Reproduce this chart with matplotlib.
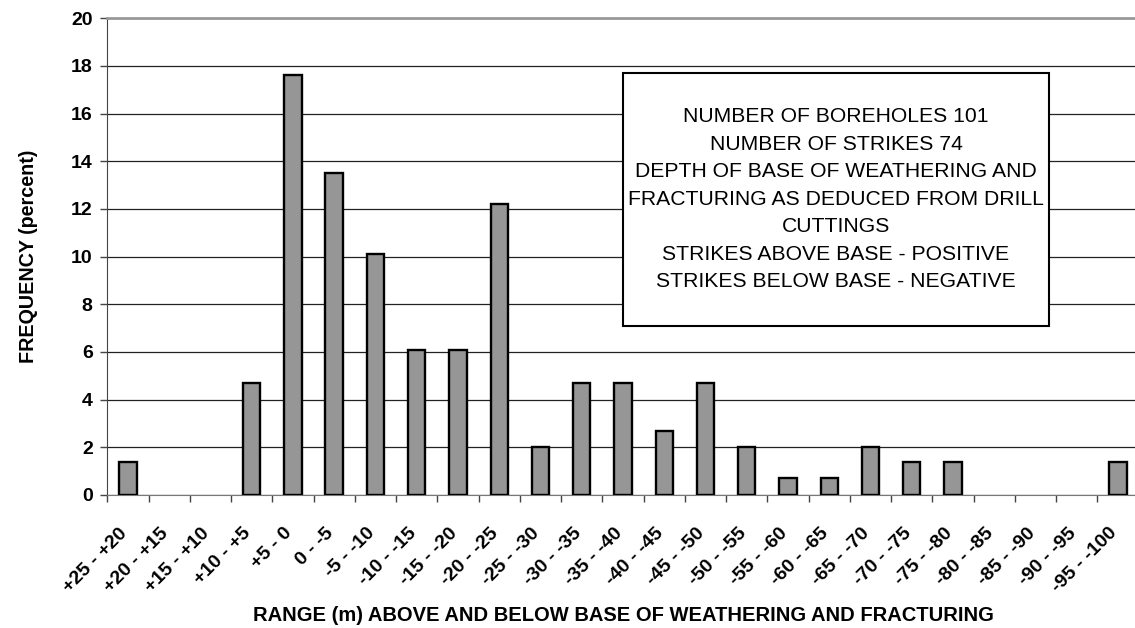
import numpy as np
import matplotlib.pyplot as plt
from matplotlib.patches import Rectangle

# =========================================================
# DATA
# =========================================================

ranges = [
    "+25 - +20", "+20 - +15", "+15 - +10", "+10 - +5", "+5 - 0",
    "0 - -5", "-5 - -10", "-10 - -15", "-15 - -20", "-20 - -25",
    "-25 - -30", "-30 - -35", "-35 - -40", "-40 - -45", "-45 - -50",
    "-50 - -55", "-55 - -60", "-60 - -65", "-65 - -70", "-70 - -75",
    "-75 - -80", "-80 - -85", "-85 - -90", "-90 - -95", "-95 - -100",
]

frequency = [
    1.4, 0, 0, 4.7, 17.6,
    13.5, 10.1, 6.1, 6.1, 12.2,
    2.0, 4.7, 4.7, 2.7, 4.7,
    2.0, 0.7, 0.7, 2.0, 1.4,
    1.4, 0, 0, 0, 1.4,
]

info_lines = [
    "NUMBER OF BOREHOLES 101",
    "NUMBER OF STRIKES 74",
    "DEPTH OF BASE OF WEATHERING AND",
    "FRACTURING AS DEDUCED FROM DRILL",
    "CUTTINGS",
    "STRIKES ABOVE BASE - POSITIVE",
    "STRIKES BELOW BASE - NEGATIVE",
]

# =========================================================
# FIGURE
# =========================================================

plt.rcParams["font.family"] = ["Liberation Sans", "DejaVu Sans"]

fig = plt.figure(figsize=(11.35, 6.28), dpi=100)
ax = fig.add_axes([0.0945, 0.2118, 0.9087, 0.7591])

x = np.arange(len(ranges))

# empty classes get no outline at the baseline
edges = ["black" if v > 0 else "none" for v in frequency]

ax.bar(x, frequency, width=0.42, color="#969696",
       edgecolor=edges, linewidth=1.7, zorder=3)

ax.set_xlim(-0.5, len(ranges) - 0.5)
ax.set_ylim(0, 20)

ax.set_yticks(np.arange(0, 21, 2))
ax.yaxis.grid(True, color="#222222", linewidth=0.9, zorder=0)
ax.set_axisbelow(True)

# category ticks sit between the bars, labels under the bars
ax.set_xticks(x - 0.5, minor=False)
ax.set_xticklabels([])
ax.set_xticks(x, minor=True)
ax.set_xticklabels(ranges, minor=True, rotation=45, ha="right",
                   va="baseline", rotation_mode="anchor",
                   fontsize=14, fontweight="bold")
ax.tick_params(axis="x", which="minor", length=0, pad=28)
ax.tick_params(axis="x", which="major", length=5, width=1, color="#444444")
ax.tick_params(axis="y", length=5, width=1, color="#444444",
               labelsize=14, pad=5.5)
for lab in ax.get_yticklabels():
    lab.set_fontweight("bold")

ax.spines["right"].set_visible(False)
ax.spines["top"].set_color("#999999")
ax.spines["top"].set_linewidth(2)
ax.spines["left"].set_color("#444444")
ax.spines["bottom"].set_color("#777777")

ax.set_xlabel("RANGE (m) ABOVE AND BELOW BASE OF WEATHERING AND FRACTURING",
              fontsize=14.5, fontweight="bold")
ax.xaxis.set_label_coords(0.5, -0.233)
ax.set_ylabel("FREQUENCY (percent)", fontsize=14.2, fontweight="bold",
              labelpad=24)

# =========================================================
# INFO BOX
# =========================================================

box = Rectangle((0.5003, 0.3545), 0.4131, 0.5301, transform=ax.transAxes,
                facecolor="white", edgecolor="black", linewidth=1.5,
                zorder=4)
ax.add_patch(box)

ax.text(0.7066, 0.6205, "\n".join(info_lines), transform=ax.transAxes,
        ha="center", va="center", multialignment="center",
        fontsize=15.2, linespacing=1.57, zorder=5)

fig.savefig("out.png", dpi=100)
